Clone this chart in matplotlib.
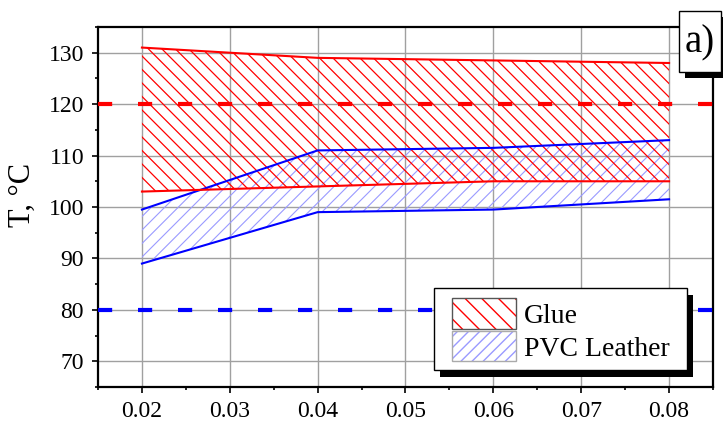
import numpy as np
import matplotlib.pyplot as plt
from matplotlib.patches import Patch, Rectangle
from matplotlib.collections import LineCollection
from matplotlib.legend_handler import HandlerTuple
from matplotlib.transforms import IdentityTransform

plt.rcParams['font.family'] = ['Liberation Serif', 'DejaVu Serif']
plt.rcParams['hatch.linewidth'] = 1.0

# Temperature bands vs. x
x = [0.02, 0.04, 0.06, 0.08]
glue_hi = [131, 129, 128.5, 128]
glue_lo = [103, 104, 105, 105]
pvc_hi = [99.5, 111, 111.5, 113]
pvc_lo = [89, 99, 99.5, 101.5]
glue_limit = 120
pvc_limit = 80

W, H = 723, 421
fig = plt.figure(figsize=(W / 100, H / 100), dpi=100)
ax = fig.add_axes([98 / W, 1 - 387 / H, 615 / W, 360 / H])

ax.set_xlim(0.015, 0.085)
ax.set_ylim(65, 135)
ax.set_xticks([0.02, 0.03, 0.04, 0.05, 0.06, 0.07, 0.08])
ax.set_xticklabels(['0.02', '0.03', '0.04', '0.05', '0.06', '0.07', '0.08'])
ax.set_xticks([0.015, 0.025, 0.035, 0.045, 0.055, 0.065, 0.075, 0.085], minor=True)
ax.set_yticks(range(70, 131, 10))
ax.set_yticks(range(65, 136, 10), minor=True)
ax.tick_params(which='major', direction='out', length=4, width=1.2, labelsize=17, pad=6)
ax.tick_params(which='minor', direction='out', length=2.5, width=1.2)
for s in ax.spines.values():
    s.set_linewidth(1.6)
ax.grid(True, color='#a0a0a0', linewidth=1.0)
ax.set_axisbelow(True)


def hatch_band(lo, hi, color, lw, step, rising):
    # diagonal hatch lines in pixel space, clipped to the band polygon
    band = ax.fill_between(x, lo, hi, facecolor='none', linewidth=0, zorder=2)
    segs = []
    for x0 in np.arange(-400, W + 400, step):
        if rising:
            segs.append([(x0, 0), (x0 + H, H)])
        else:
            segs.append([(x0, H), (x0 + H, 0)])
    lc = LineCollection(segs, colors=color, linewidths=lw,
                        transform=IdentityTransform(), zorder=2)
    ax.add_collection(lc, autolim=False)
    lc.set_clip_path(band.get_paths()[0], ax.transData)


hatch_band(pvc_lo, pvc_hi, '#9a9aff', 0.8, 13.5, True)
hatch_band(glue_lo, glue_hi, 'red', 0.9, 13.5, False)
for y in (pvc_lo, pvc_hi):
    ax.plot(x, y, color='#0000ff', lw=1.5, zorder=3)
for y in (glue_lo, glue_hi):
    ax.plot(x, y, color='red', lw=1.5, zorder=3)

# limit lines
ax.axhline(glue_limit, color='red', lw=3, dashes=(3.4, 6.2), zorder=3)
ax.axhline(pvc_limit, color='#0000ff', lw=3, dashes=(3.4, 6.2), zorder=3)

ax.set_ylabel('T, °C', fontsize=22)
ax.yaxis.set_label_coords(-0.099, 0.533)

# legend with a solid drop shadow
fig.add_artist(Rectangle((440 / W, 1 - 377 / H), 253 / W, 82 / H,
                         transform=fig.transFigure, facecolor='black',
                         edgecolor='none', zorder=5))
fig.add_artist(Rectangle((434 / W, 1 - 370 / H), 253 / W, 82 / H,
                         transform=fig.transFigure, facecolor='white',
                         edgecolor='black', lw=1.0, zorder=6))
frame = dict(facecolor='none', lw=1.0)
h_glue = (Patch(facecolor='white', edgecolor='red', hatch='\\\\', lw=0),
          Patch(edgecolor='#555555', **frame))
h_pvc = (Patch(facecolor='white', edgecolor='#9a9aff', hatch='///', lw=0),
         Patch(edgecolor='#aaaaaa', **frame))
leg = fig.legend([h_glue, h_pvc], ['Glue', 'PVC Leather'],
                 handler_map={tuple: HandlerTuple(ndivide=1, pad=0)},
                 loc='center', bbox_to_anchor=(561 / W, 1 - 330 / H),
                 frameon=False, fontsize=20, handlelength=2.3, handleheight=1.3,
                 handletextpad=0.3, labelspacing=0.08, borderpad=0)
leg.set_zorder(7)

# panel tag
fig.add_artist(Rectangle((685 / W, 1 - 78 / H), 42 / W, 61 / H,
                         transform=fig.transFigure, facecolor='black',
                         edgecolor='none', zorder=5))
fig.add_artist(Rectangle((679 / W, 1 - 72 / H), 42 / W, 61 / H,
                         transform=fig.transFigure, facecolor='white',
                         edgecolor='black', lw=1.0, zorder=6))
fig.text(700 / W, 1 - 43 / H, 'a)', fontsize=28, ha='center', va='center', zorder=7)

fig.savefig('out.png', dpi=100)
